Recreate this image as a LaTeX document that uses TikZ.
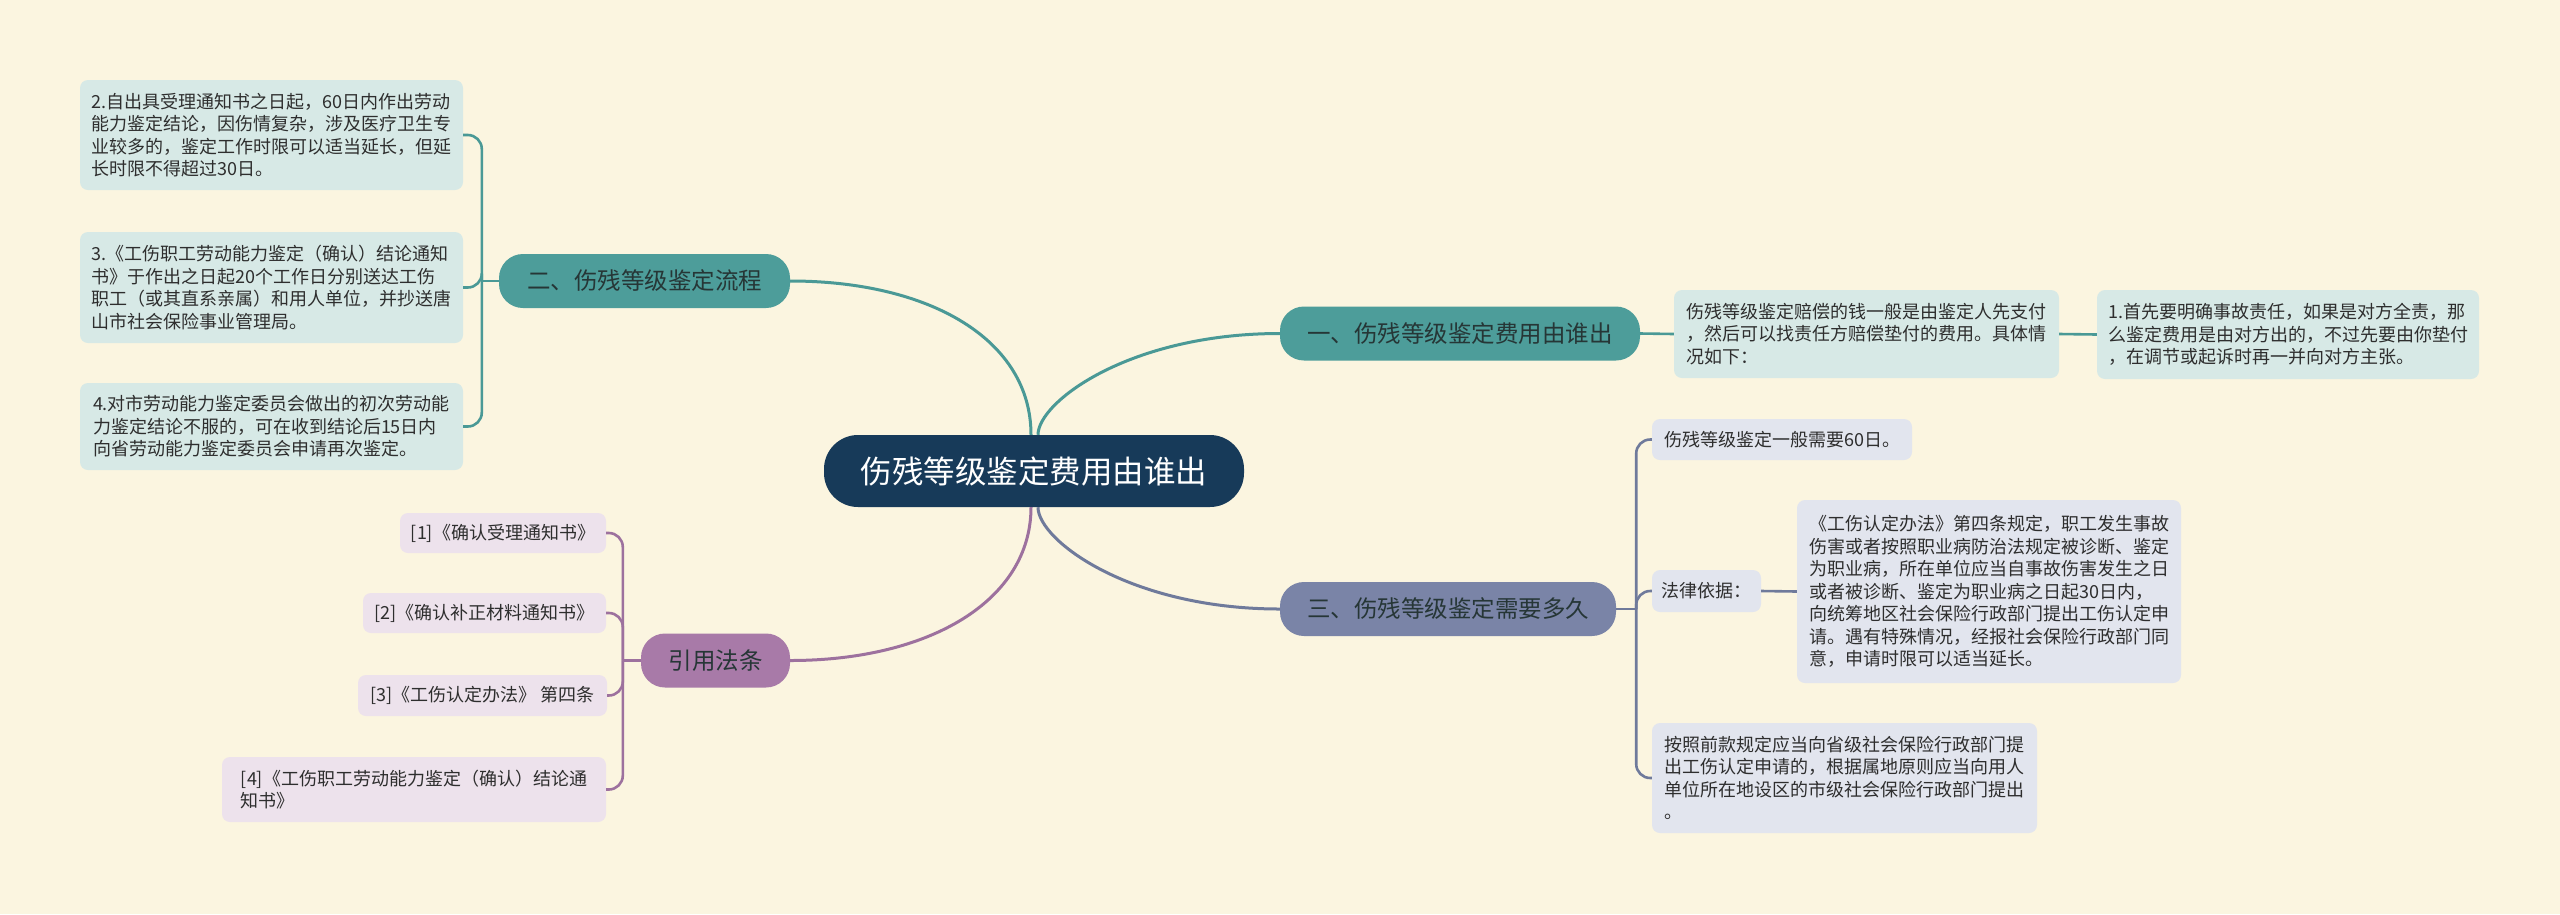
\documentclass[tikz,border=0pt]{standalone}
\usepackage{fontspec}
\setmainfont{Noto Sans CJK SC}
\usetikzlibrary{calc}
\definecolor{bg}{HTML}{FBF5E0}
\definecolor{rootc}{HTML}{173A59}
\definecolor{tealc}{HTML}{4D9D9A}
\definecolor{teall}{HTML}{D7E9E6}
\definecolor{tealline}{HTML}{4A9996}
\definecolor{slatec}{HTML}{7A84A7}
\definecolor{slatel}{HTML}{E2E5EE}
\definecolor{slateline}{HTML}{6F7A9B}
\definecolor{purpc}{HTML}{A87AA8}
\definecolor{purpl}{HTML}{EDE2EC}
\definecolor{purpline}{HTML}{9D719E}
\definecolor{txt}{HTML}{2E2E2E}
\definecolor{btxt}{HTML}{263636}
\begin{document}
\begin{tikzpicture}[x=1pt,y=-1pt,
  rootbox/.style={fill=rootc, rounded corners=34pt, text=white, minimum width=420pt, minimum height=72pt, font=\fontsize{31.5}{36}\selectfont, inner sep=0pt},
  branchbox/.style={rounded corners=24pt, text=btxt, minimum height=54pt, font=\fontsize{23.5}{28}\selectfont, inner sep=0pt},
  leafbox/.style={rounded corners=8pt, text=txt, align=left, font=\fontsize{18}{22.5}\selectfont, inner xsep=3pt, inner ysep=0pt},
  tleaf/.style={leafbox, fill=teall},
  sleaf/.style={leafbox, fill=slatel},
  pleaf/.style={leafbox, fill=purpl},
  mainline/.style={line width=3pt},
  subline/.style={line width=2.6pt},
  bendline/.style={subline, rounded corners=14pt}
]
\useasboundingbox (0,0) rectangle (2560,914);
\fill[bg] (0,0) rectangle (2560,914);

% root and branches
\node[rootbox] (root) at (1034,471) {伤残等级鉴定费用由谁出};
\node[branchbox, fill=tealc, minimum width=360pt] (b1) at (1460,333.5) {一、伤残等级鉴定费用由谁出};
\node[branchbox, fill=tealc, minimum width=291pt] (b2) at (644.5,281) {二、伤残等级鉴定流程};
\node[branchbox, fill=slatec, minimum width=336pt] (b3) at (1448,609) {三、伤残等级鉴定需要多久};
\node[branchbox, fill=purpc, minimum width=149pt] (b4) at (715.5,660.5) {引用法条};

% left teal leaves
\node[tleaf, minimum width=383pt, minimum height=110pt] (L2) at (271.5,135) {2.自出具受理通知书之日起，60日内作出劳动\\能力鉴定结论，因伤情复杂，涉及医疗卫生专\\业较多的，鉴定工作时限可以适当延长，但延\\长时限不得超过30日。};
\node[tleaf, minimum width=383pt, minimum height=111pt] (L3) at (271.5,287.5) {3.《工伤职工劳动能力鉴定（确认）结论通知\\书》于作出之日起20个工作日分别送达工伤\\职工（或其直系亲属）和用人单位，并抄送唐\\山市社会保险事业管理局。};
\node[tleaf, minimum width=383pt, minimum height=87pt] (L4) at (271.5,426.5) {4.对市劳动能力鉴定委员会做出的初次劳动能\\力鉴定结论不服的，可在收到结论后15日内\\向省劳动能力鉴定委员会申请再次鉴定。};

% right teal leaves
\node[tleaf, minimum width=385pt, minimum height=88pt] (R1) at (1866.5,334) {伤残等级鉴定赔偿的钱一般是由鉴定人先支付\\，然后可以找责任方赔偿垫付的费用。具体情\\况如下：};
\node[tleaf, minimum width=382pt, minimum height=89pt] (R1a) at (2288,334.5) {1.首先要明确事故责任，如果是对方全责，那\\么鉴定费用是由对方出的，不过先要由你垫付\\，在调节或起诉时再一并向对方主张。};

% slate leaves
\node[sleaf, minimum width=260pt, minimum height=41pt] (T1) at (1782,439.5) {伤残等级鉴定一般需要60日。};
\node[sleaf, minimum width=109pt, minimum height=42pt] (T2) at (1706.5,591) {法律依据：};
\node[sleaf, minimum width=384pt, minimum height=183pt] (T2a) at (1989,591.5) {《工伤认定办法》第四条规定，职工发生事故\\伤害或者按照职业病防治法规定被诊断、鉴定\\为职业病，所在单位应当自事故伤害发生之日\\或者被诊断、鉴定为职业病之日起30日内，\\向统筹地区社会保险行政部门提出工伤认定申\\请。遇有特殊情况，经报社会保险行政部门同\\意，申请时限可以适当延长。};
\node[sleaf, minimum width=385pt, minimum height=110pt] (T3) at (1844.5,778) {按照前款规定应当向省级社会保险行政部门提\\出工伤认定申请的，根据属地原则应当向用人\\单位所在地设区的市级社会保险行政部门提出\\。};

% purple leaves
\node[pleaf, minimum width=206pt, minimum height=40pt] (C1) at (503,533) {[1]《确认受理通知书》};
\node[pleaf, minimum width=243pt, minimum height=40pt] (C2) at (484.5,613) {[2]《确认补正材料通知书》};
\node[pleaf, minimum width=249pt, minimum height=41pt] (C3) at (482.5,695.5) {[3]《工伤认定办法》 第四条};
\node[pleaf, minimum width=384pt, minimum height=65pt] (C4) at (414,789.5) {[4]《工伤职工劳动能力鉴定（确认）结论通\\知书》};

% root connectors
\draw[tealline, mainline] ($(root.north)+(4,0)$) .. controls +(0,-33) and +(-150,0) .. (b1.west);
\draw[tealline, mainline] ($(root.north)+(-3,0)$) .. controls +(0,-95) and +(140,0) .. (b2.east);
\draw[slateline, mainline] ($(root.south)+(4,0)$) .. controls +(0,33) and +(-150,0) .. (b3.west);
\draw[purpline, mainline] ($(root.south)+(-3,0)$) .. controls +(0,93) and +(140,0) .. (b4.east);

% branch 1
\draw[tealline, subline] (b1.east) -- (R1.west);
\draw[tealline, subline] (R1.east) -- (R1a.west);

% branch 2
\coordinate (j2) at ($(b2.west)+(-17,0)$);
\draw[tealline, subline] (b2.west) -- (j2);
\draw[tealline, bendline] (j2) |- (L2.east);
\draw[tealline, bendline] (j2) |- (L3.east);
\draw[tealline, bendline] (j2) |- (L4.east);

% branch 3
\coordinate (j3) at ($(b3.east)+(20,0)$);
\draw[slateline, subline] (b3.east) -- (j3);
\draw[slateline, bendline] (j3) |- (T1.west);
\draw[slateline, bendline] (j3) |- (T2.west);
\draw[slateline, bendline] (j3) |- (T3.west);
\draw[slateline, subline] (T2.east) -- (T2a.west);

% branch 4
\coordinate (j4) at ($(b4.west)+(-18,0)$);
\draw[purpline, subline] (b4.west) -- (j4);
\draw[purpline, bendline] (j4) |- (C1.east);
\draw[purpline, bendline] (j4) |- (C2.east);
\draw[purpline, bendline] (j4) |- (C3.east);
\draw[purpline, bendline] (j4) |- (C4.east);
\end{tikzpicture}
\end{document}
